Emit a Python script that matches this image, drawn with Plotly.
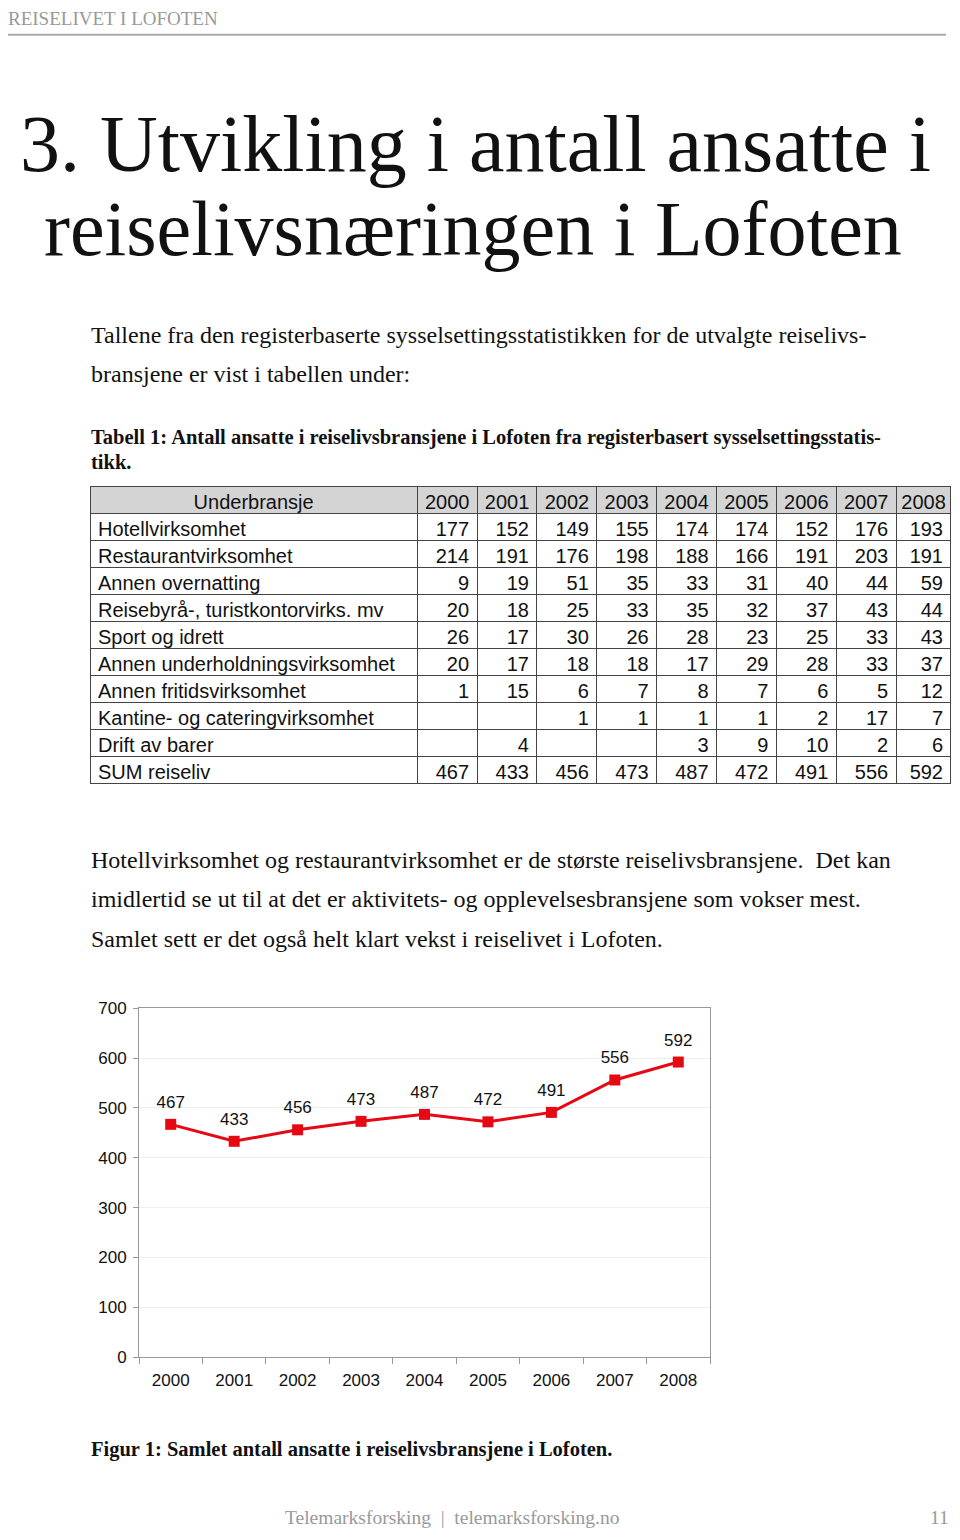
import plotly.graph_objects as go

# page is 960x1540, the html body keeps its default 8px margin
PAGE_W, PAGE_H = 960, 1540
OFF = 8
W, H = PAGE_W - 2 * OFF, PAGE_H - 2 * OFF
# small vertical drift measured on the rendered page (rendered = A + B * placed)
DRIFT_A, DRIFT_B = 8.4, 0.988

# --- data -------------------------------------------------------------
years = ["2000", "2001", "2002", "2003", "2004", "2005", "2006", "2007", "2008"]

underbransjer = [
    "Hotellvirksomhet",
    "Restaurantvirksomhet",
    "Annen overnatting",
    "Reisebyrå-, turistkontorvirks. mv",
    "Sport og idrett",
    "Annen underholdningsvirksomhet",
    "Annen fritidsvirksomhet",
    "Kantine- og cateringvirksomhet",
    "Drift av barer",
    "SUM reiseliv",
]

hotell = [177, 152, 149, 155, 174, 174, 152, 176, 193]
restaurant = [214, 191, 176, 198, 188, 166, 191, 203, 191]
annen_overnatting = [9, 19, 51, 35, 33, 31, 40, 44, 59]
reisebyra = [20, 18, 25, 33, 35, 32, 37, 43, 44]
sport = [26, 17, 30, 26, 28, 23, 25, 33, 43]
underholdning = [20, 17, 18, 18, 17, 29, 28, 33, 37]
fritid = [1, 15, 6, 7, 8, 7, 6, 5, 12]
kantine = [None, None, 1, 1, 1, 1, 2, 17, 7]
barer = [None, 4, None, None, 3, 9, 10, 2, 6]
sum_reiseliv = [467, 433, 456, 473, 487, 472, 491, 556, 592]

rows = [hotell, restaurant, annen_overnatting, reisebyra, sport,
        underholdning, fritid, kantine, barer, sum_reiseliv]

y_ticks = [0, 100, 200, 300, 400, 500, 600, 700]


def px_x(x):
    # page pixel -> paper fraction
    return (x - OFF) / W


def px_y(y, limit=None):
    p = (y - DRIFT_A) / DRIFT_B
    if limit is not None:
        p = min(p, limit)
    return 1 - (p - OFF) / H


SERIF = "Liberation Serif"
SANS = "Liberation Sans"
RED = "#e50914"

# table columns: first the labels, then one column per year
columns = [underbransjer]
for i in range(len(years)):
    columns.append(["" if r[i] is None else str(r[i]) for r in rows])

fig = go.Figure()

fig.add_trace(go.Table(
    domain=dict(x=[px_x(90), px_x(951)], y=[px_y(820), px_y(486)]),
    columnwidth=[328] + [60] * 8 + [55],
    header=dict(
        values=["Underbransje"] + years,
        align="center",
        height=27,
        fill_color="#d4d4d4",
        line=dict(color="#444444", width=1),
        font=dict(family=SANS, size=20, color="#111111"),
    ),
    cells=dict(
        values=columns,
        align=["left"] + ["right"] * 9,
        height=27,
        fill_color="white",
        line=dict(color="#444444", width=1),
        font=dict(family=SANS, size=20, color="#111111"),
    ),
))

# line with square markers
fig.add_trace(go.Scatter(
    x=years,
    y=sum_reiseliv,
    mode="lines+markers",
    line=dict(color=RED, width=3),
    marker=dict(symbol="square", size=11, color=RED),
    cliponaxis=False,
    hoverinfo="skip",
    showlegend=False,
))
# value labels, pushed up a little by an invisible, larger marker
fig.add_trace(go.Scatter(
    x=years,
    y=sum_reiseliv,
    mode="markers+text",
    text=[str(v) for v in sum_reiseliv],
    textposition="top center",
    textfont=dict(family=SANS, size=17, color="#111111"),
    marker=dict(size=18, opacity=0),
    cliponaxis=False,
    hoverinfo="skip",
    showlegend=False,
))

fig.update_xaxes(
    type="category",
    domain=[px_x(139), px_x(710)],
    range=[-0.5, 8.5],
    showline=True, linecolor="#999999", linewidth=1, mirror=True,
    ticks="outside", tickson="boundaries", ticklen=6, tickcolor="#999999",
    showgrid=False,
    tickfont=dict(family=SANS, size=17, color="#111111"),
    ticklabelstandoff=8,
    fixedrange=True,
)
fig.update_yaxes(
    domain=[px_y(1357), px_y(1008)],
    range=[0, 700],
    tickvals=y_ticks,
    showline=True, linecolor="#999999", linewidth=1, mirror=True,
    ticks="outside", ticklen=5, tickcolor="#999999",
    showgrid=True, gridcolor="#eeeeee", gridwidth=1,
    zeroline=False,
    tickfont=dict(family=SANS, size=17, color="#111111"),
    ticklabelstandoff=3,
    fixedrange=True,
)

# --- page text --------------------------------------------------------
texts = [
    # (text, x, y, size, bold, color, xanchor)
    ("REISELIVET I LOFOTEN", 6, 18, 19, False, "#999999", "left"),
    ("3. Utvikling i antall ansatte i", 475, 143, 80, False, "#111111", "center"),
    ("reiselivsnæringen i Lofoten", 473, 228, 78, False, "#111111", "center"),
    ("Tallene fra den registerbaserte sysselsettingsstatistikken for de utvalgte reiselivs-",
     89, 334, 24, False, "#111111", "left"),
    ("bransjene er vist i tabellen under:", 89, 373, 24, False, "#111111", "left"),
    ("Tabell 1: Antall ansatte i reiselivsbransjene i Lofoten fra registerbasert sysselsettingsstatis-",
     89, 437, 20.5, True, "#111111", "left"),
    ("tikk.", 89, 462, 20.5, True, "#111111", "left"),
    ("Hotellvirksomhet og restaurantvirksomhet er de største reiselivsbransjene.  Det kan",
     89, 860, 24, False, "#111111", "left"),
    ("imidlertid se ut til at det er aktivitets- og opplevelsesbransjene som vokser mest.",
     89, 899, 24, False, "#111111", "left"),
    ("Samlet sett er det også helt klart vekst i reiselivet i Lofoten.",
     89, 939, 24, False, "#111111", "left"),
    ("Figur 1: Samlet antall ansatte i reiselivsbransjene i Lofoten.",
     89, 1449, 20.5, True, "#111111", "left"),
    ("Telemarksforsking  |  telemarksforsking.no", 452, 1525, 19.5, False, "#999999", "center"),
    ("11", 939, 1523, 19.5, False, "#999999", "center"),
]

annotations = []
for txt, x, y, size, bold, color, xa in texts:
    annotations.append(dict(
        text=f"<b>{txt}</b>" if bold else txt,
        x=px_x(x), y=px_y(y, limit=1527), xref="paper", yref="paper",
        xanchor=xa, yanchor="middle", showarrow=False,
        font=dict(family=SERIF, size=size, color=color),
    ))

fig.update_layout(
    width=W, height=H,
    margin=dict(l=0, r=0, t=0, b=0),
    paper_bgcolor="white",
    plot_bgcolor="white",
    annotations=annotations,
    shapes=[dict(type="line", xref="paper", yref="paper",
                 x0=0, x1=px_x(946), y0=px_y(34), y1=px_y(34),
                 line=dict(color="#aaaaaa", width=2))],
    showlegend=False,
)

fig.write_html("out.html")
